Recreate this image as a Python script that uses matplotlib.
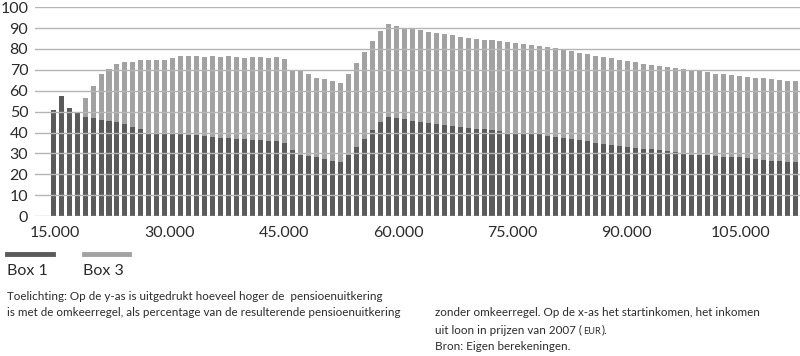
import numpy as np
import matplotlib
matplotlib.use("Agg")
import matplotlib.pyplot as plt

plt.rcParams['font.family'] = ['Lato', 'DejaVu Sans']

box1 = [51, 57.5, 51.5, 49.3, 47.6, 46.8, 46.1, 45.6, 45.2, 44.0,
        42.7, 41.5, 39.9, 39.6, 39.4, 39.3, 39.1, 39.0, 38.8, 38.3,
        37.9, 37.5, 37.2, 36.9, 36.7, 36.5, 36.4, 36.1, 35.9, 35.2,
        31.4, 29.4, 28.8, 28.3, 27.3, 26.4, 25.9, 29.2, 33.2, 36.8,
        41.2, 45.0, 47.6, 46.9, 46.5, 45.6, 45.1, 44.6, 44.1, 43.6,
        43.3, 42.8, 42.3, 41.8, 41.5, 41.1, 40.7, 40.0, 39.4, 39.3,
        39.3, 39.1, 38.5, 38.0, 37.4, 36.8, 36.3, 35.7, 35.1, 34.6,
        34.2, 33.7, 33.2, 32.7, 32.3, 31.9, 31.5, 31.2, 30.5, 29.8,
        29.4, 29.2, 29.1, 28.8, 28.4, 28.3, 28.1, 27.8, 27.1, 26.8,
        26.5, 26.2, 25.9, 25.9]
totaal = [51, 57.5, 51.5, 49.3, 56.5, 62.3, 68.2, 70.5, 73.0, 73.7,
          73.6, 74.6, 74.6, 74.7, 74.9, 75.5, 76.8, 76.6, 76.8, 76.3,
          76.5, 76.1, 76.4, 76.1, 75.6, 76.1, 76.0, 75.6, 76.0, 75.3,
          69.6, 69.3, 67.9, 66.3, 65.5, 64.7, 63.7, 68.0, 73.3, 78.4,
          83.6, 88.8, 92.0, 91.2, 90.0, 89.5, 89.1, 88.3, 87.7, 87.2,
          86.6, 85.9, 85.2, 84.8, 84.4, 84.2, 83.8, 83.4, 82.9, 82.4,
          81.9, 81.5, 80.9, 80.2, 79.5, 78.8, 78.2, 77.4, 76.8, 76.1,
          75.5, 74.8, 74.2, 73.5, 73.0, 72.5, 71.9, 71.3, 70.8, 70.2,
          69.6, 69.2, 68.8, 68.2, 67.8, 67.6, 67.1, 66.7, 66.3, 66.0,
          65.7, 65.3, 64.8, 64.5]
box3 = np.array(totaal) - np.array(box1)

x_labels = ["15.000", "30.000", "45.000", "60.000", "75.000", "90.000", "105.000"]

donker = '#5b5b5b'
licht = '#a2a2a2'
tekst = '#2b2b2b'

fig = plt.figure(figsize=(8, 3.56), dpi=100)
ax = fig.add_axes([0.044, 0.393, 0.956, 0.587])

x = np.arange(len(box1))
ax.bar(x, box1, width=0.63, color=donker, zorder=1)
ax.bar(x, box3, width=0.63, bottom=box1, color=licht, zorder=1)

ax.set_ylim(0, 100)
ax.set_xlim(-2.25, 93.6)
ax.set_yticks(range(0, 101, 10))
ax.yaxis.grid(True, color='#b5b5b5', linewidth=1.0, zorder=3)
ax.set_axisbelow(False)
ax.set_xticks(np.linspace(0.25, 86.2, len(x_labels)))
ax.set_xticklabels(x_labels)
ax.tick_params(length=0, labelsize=11.5, colors=tekst)
ax.tick_params(axis='y', pad=5)
ax.tick_params(axis='x', pad=7)
for s in ax.spines.values():
    s.set_visible(False)

# legenda
fig.add_artist(plt.Line2D([7/800, 53/800], [1-254/356]*2, color=donker, lw=3.5))
fig.add_artist(plt.Line2D([84/800, 129/800], [1-254/356]*2, color=licht, lw=3.5))
fig.text(7/800, 1-271/356, "Box 1", fontsize=11.5, color=tekst, va='center')
fig.text(83/800, 1-271/356, "Box 3", fontsize=11.5, color=tekst, va='center')

# toelichting (y = basislijn in pixels)
fs = 8.4
def regel(xp, yp, s, size=fs):
    return fig.text(xp/800, 1-yp/356, s, fontsize=size, color=tekst, va='baseline')

regel(7, 299.5, "Toelichting: Op de y-as is uitgedrukt hoeveel hoger de  pensioenuitkering")
regel(7, 316.5, "is met de omkeerregel, als percentage van de resulterende pensioenuitkering")
regel(435, 316.5, "zonder omkeerregel. Op de x-as het startinkomen, het inkomen")
t1 = regel(435, 333.5, "uit loon in prijzen van 2007 (")
regel(435, 350.5, "Bron: Eigen berekeningen.")

# EUR in klein kapitaal
r = fig.canvas.get_renderer()
bb = t1.get_window_extent(r)
t2 = regel(bb.x1 + 1.5, 333.5, "EUR", size=fs*0.78)
bb2 = t2.get_window_extent(r)
regel(bb2.x1 + 1.0, 333.5, ").")

fig.savefig("out.png", dpi=100)
